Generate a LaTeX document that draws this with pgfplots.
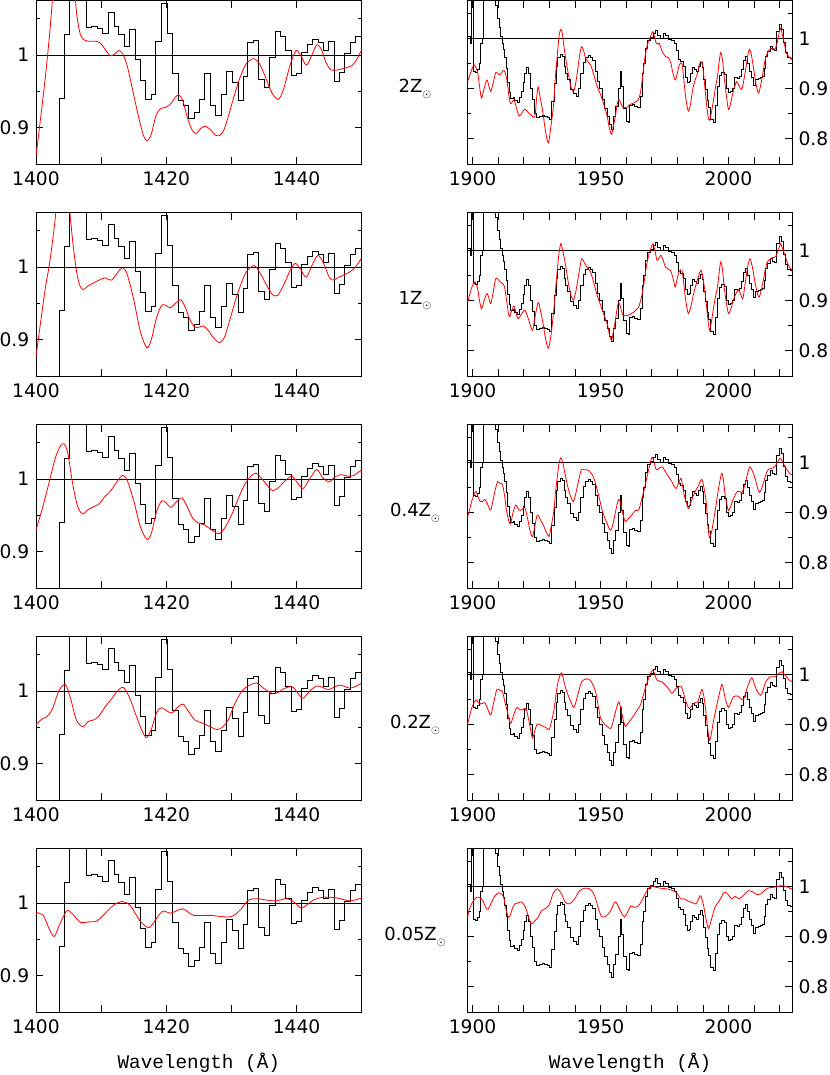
\documentclass[border=0pt]{standalone}
\usepackage{fontspec}
\setmainfont{DejaVu Sans}
\newfontfamily\labfont{Liberation Mono}
\usepackage{pgfplots}
\usepackage{pgfplotstable}
\pgfplotsset{compat=1.18}

\pgfplotstableread{
x y
1402.5 0.5
1403.6 0.940
1404.4 1.028
1405.2 1.2
1407.7 1.038
1408.5 1.040
1409.4 1.036
1410.2 1.030
1411.1 1.058
1412.0 1.040
1412.7 1.028
1413.6 1.012
1414.4 1.035
1415.2 0.994
1416.0 0.965
1416.8 0.939
1417.7 0.946
1418.4 1.019
1419.3 1.071
1420.1 1.030
1421.0 0.974
1421.8 0.937
1422.6 0.930
1423.4 0.913
1424.3 0.921
1425.1 0.939
1425.9 0.974
1426.8 0.931
1427.6 0.917
1428.4 0.946
1429.3 0.978
1430.1 0.962
1431.0 0.937
1431.8 0.971
1432.5 1.017
1433.4 1.020
1434.2 0.966
1435.1 0.956
1435.8 0.997
1436.7 1.032
1437.5 1.026
1438.3 1.006
1439.2 0.972
1440.0 0.975
1440.8 1.003
1441.6 1.014
1442.4 1.022
1443.3 1.017
1444.1 1.007
1444.9 1.019
1445.8 0.964
1446.6 0.976
1447.4 1.002
1448.3 1.017
1449.1 1.026
1450.0 1.026
}\leftobs

\pgfplotstableread{
x y
1897.5 1.003
1899.0 0.990
1899.6 1.2
1900.3 0.935
1901.2 0.932
1901.9 0.938
1902.5 0.950
1903.1 0.990
1903.8 1.0
1904.4 1.2
1909.0 1.065
1909.7 1.040
1910.3 1.022
1911.0 1.003
1911.6 0.990
1912.1 0.977
1912.6 0.962
1913.1 0.940
1913.6 0.912
1914.2 0.892
1914.8 0.880
1915.8 0.882
1916.5 0.876
1917.5 0.872
1918.4 0.882
1919.1 0.895
1919.7 0.912
1920.4 0.930
1921.1 0.942
1921.9 0.930
1922.7 0.900
1923.4 0.878
1924.3 0.850
1925.1 0.842
1926.2 0.845
1927.2 0.846
1928.2 0.845
1929.2 0.843
1929.9 0.838
1930.8 0.875
1931.8 0.910
1932.6 0.945
1933.3 0.962
1934.2 0.967
1935.0 0.964
1935.7 0.945
1936.4 0.930
1937.2 0.918
1938.3 0.898
1939.3 0.890
1940.4 0.884
1941.3 0.900
1942.2 0.930
1943.2 0.952
1944.2 0.962
1945.2 0.965
1946.2 0.962
1946.9 0.955
1947.9 0.935
1948.8 0.915
1949.6 0.900
1950.6 0.878
1951.6 0.860
1952.5 0.845
1953.3 0.828
1954.2 0.818
1955.0 0.845
1955.9 0.865
1956.8 0.900
1957.6 0.934
1958.3 0.905
1959.1 0.860
1960.0 0.835
1960.9 0.832
1961.4 0.866
1962.4 0.868
1963.4 0.864
1964.4 0.862
1965.5 0.885
1966.3 0.930
1966.9 0.950
1967.5 0.980
1968.3 0.995
1969.4 1.002
1970.5 1.010
1971.4 1.015
1972.3 1.006
1973.4 1.000
1974.5 1.010
1975.5 1.006
1976.6 0.998
1977.7 0.995
1978.8 0.990
1979.6 0.975
1980.3 0.957
1981.3 0.953
1982.2 0.945
1983.0 0.922
1983.8 0.913
1984.7 0.914
1985.3 0.930
1986.0 0.943
1986.8 0.938
1987.5 0.934
1988.3 0.945
1989.0 0.952
1989.7 0.942
1990.3 0.918
1990.9 0.898
1991.6 0.876
1992.3 0.862
1993.1 0.838
1994.2 0.833
1995.0 0.866
1995.7 0.905
1996.5 0.927
1997.3 0.933
1998.3 0.928
1999.1 0.900
2000.0 0.892
2000.9 0.895
2001.7 0.900
2002.5 0.922
2003.5 0.921
2004.3 0.924
2005.1 0.938
2005.8 0.955
2006.5 0.964
2007.2 0.950
2008.1 0.934
2009.0 0.923
2009.7 0.907
2010.6 0.918
2011.6 0.921
2012.4 0.922
2013.2 0.925
2013.9 0.940
2014.6 0.963
2015.3 0.973
2016.2 0.984
2017.1 0.978
2018.0 0.975
2018.8 1.013
2019.7 1.027
2020.6 1.018
2021.4 0.992
2022.3 0.972
2023.2 0.962
2024.3 0.960
2025.5 0.960
}\rightobs

\pgfplotstableread{
x y
1400 0.861
1400.8 0.92
1401.5 0.975
1402.2 1.04
1402.8 1.11
1403.3 1.17
1405.3 1.17
1405.8 1.11
1406.2 1.06
1406.7 1.032
1407.2 1.022
1408.0 1.019
1409.0 1.019
1409.8 1.017
1410.6 1.008
1411.4 0.999
1412.0 1.001
1412.7 1.006
1413.3 1.002
1414.0 0.985
1415.0 0.945
1416.0 0.905
1416.6 0.887
1417.1 0.882
1417.7 0.891
1418.4 0.916
1419.1 0.926
1419.9 0.928
1420.7 0.933
1421.4 0.942
1421.9 0.945
1422.5 0.938
1423.3 0.912
1424.0 0.896
1424.6 0.892
1425.3 0.899
1426.0 0.902
1426.8 0.897
1427.5 0.890
1428.1 0.889
1428.8 0.896
1429.5 0.915
1430.3 0.940
1431.2 0.966
1432.2 0.987
1433.4 0.995
1434.3 0.988
1435.2 0.970
1436.2 0.948
1437.2 0.939
1438.0 0.953
1439.0 0.986
1439.9 1.006
1440.6 1.000
1441.5 0.986
1442.3 0.999
1443.1 1.014
1443.8 1.008
1444.5 0.990
1445.2 0.980
1446.0 0.979
1447.0 0.981
1447.8 0.983
1448.6 0.986
1449.3 0.995
1450.0 1.007
}\redLa

\pgfplotstableread{
x y
1400 0.877
1400.8 0.93
1401.5 0.975
1402.0 1.000
1402.6 1.04
1403.1 1.08
1403.6 1.13
1404.6 1.13
1405.2 1.075
1405.7 1.03
1406.3 0.99
1406.8 0.973
1407.3 0.969
1408.0 0.974
1408.8 0.978
1409.7 0.982
1410.6 0.985
1411.6 0.982
1412.5 0.992
1413.3 0.999
1414.0 0.99
1415.0 0.955
1416.0 0.912
1417.0 0.889
1417.7 0.900
1418.5 0.930
1419.4 0.948
1420.6 0.944
1421.4 0.950
1422.2 0.955
1422.9 0.945
1423.6 0.928
1424.3 0.918
1425.0 0.917
1425.7 0.919
1426.5 0.912
1427.3 0.902
1428.2 0.896
1429.0 0.905
1430.0 0.935
1431.0 0.965
1432.2 0.992
1433.5 1.002
1434.5 0.99
1435.4 0.975
1436.3 0.962
1437.1 0.961
1438.0 0.975
1439.0 0.995
1439.8 1.005
1440.6 0.997
1441.5 0.986
1442.4 1.003
1443.3 1.016
1444.2 1.004
1445.0 0.986
1445.6 0.982
1446.5 0.986
1447.5 0.990
1448.6 0.996
1449.3 1.003
1450.0 1.013
}\redLb

\pgfplotstableread{
x y
1400 0.930
1401 0.960
1402 0.995
1403 1.030
1403.8 1.046
1404.35 1.048
1404.9 1.035
1405.6 0.995
1406.4 0.962
1407.2 0.952
1408 0.958
1408.9 0.962
1409.7 0.966
1410.6 0.976
1411.5 0.984
1412.4 0.996
1413.3 1.005
1414.0 0.998
1415.0 0.97
1416.0 0.935
1417.0 0.917
1417.7 0.925
1418.5 0.955
1419.3 0.970
1420.0 0.967
1420.7 0.961
1421.6 0.969
1422.4 0.974
1423.2 0.962
1424.0 0.947
1424.8 0.940
1425.8 0.937
1426.8 0.931
1427.6 0.926
1428.2 0.925
1429.0 0.933
1430.0 0.950
1431.0 0.972
1432.0 0.992
1433.0 1.004
1433.8 1.008
1434.7 1.000
1435.6 0.99
1436.3 0.984
1437.2 0.988
1438.3 0.998
1439.3 1.004
1440.2 0.994
1441.0 0.987
1442.0 1.000
1443.1 1.013
1444.0 1.002
1445.0 0.996
1445.9 1.003
1446.8 1.006
1447.8 1.004
1448.8 1.005
1450 1.013
}\redLc

\pgfplotstableread{
x y
1400 0.954
1401 0.962
1401.6 0.964
1402.5 0.975
1403.5 1.0
1404.5 1.009
1405.3 0.99
1406.2 0.960
1407.2 0.951
1408.0 0.958
1408.8 0.960
1409.6 0.965
1410.6 0.978
1411.5 0.988
1412.5 1.000
1413.4 1.005
1414.3 0.992
1415.3 0.968
1416.3 0.945
1417.0 0.936
1417.8 0.950
1418.5 0.970
1419.2 0.977
1420.2 0.972
1420.9 0.970
1421.8 0.978
1422.6 0.982
1423.4 0.972
1424.4 0.960
1425.5 0.956
1426.5 0.952
1427.7 0.947
1428.6 0.950
1429.5 0.960
1430.4 0.980
1431.6 1.000
1432.8 1.008
1433.9 1.011
1434.9 1.004
1436.2 0.997
1437.2 0.998
1438.0 1.003
1439.3 1.006
1440.2 0.997
1441.0 0.990
1442.0 1.000
1443.1 1.007
1444.0 1.005
1444.9 1.002
1446.6 1.008
1448.1 1.004
1449.0 1.006
1450.0 1.011
}\redLd

\pgfplotstableread{
x y
1400 0.987
1401.1 0.983
1402.0 0.965
1402.8 0.954
1403.6 0.970
1404.4 0.985
1404.9 0.990
1405.9 0.982
1406.9 0.973
1408.0 0.974
1409.3 0.975
1410.3 0.983
1411.9 0.997
1413.3 1.002
1414.5 0.996
1416.0 0.975
1417.3 0.966
1418.2 0.975
1419.0 0.985
1419.6 0.989
1420.6 0.986
1421.5 0.989
1422.5 0.992
1423.3 0.988
1424.2 0.983
1426.7 0.983
1429.8 0.981
1431.3 0.99
1432.6 1.004
1433.9 1.006
1435.4 1.004
1436.9 1.003
1438.5 1.006
1439.8 1.000
1440.8 0.993
1442.6 1.004
1444.1 1.008
1446.2 1.007
1448.2 1.003
1450.0 1.007
}\redLe

\pgfplotstableread{
x y
1898 0.915
1898.3 0.917
1899.5 0.935
1900.6 0.947
1901.9 0.934
1902.7 0.905
1903.5 0.881
1904.5 0.900
1905.6 0.917
1906.4 0.905
1907.1 0.894
1908.1 0.912
1909.1 0.932
1910.5 0.927
1912.3 0.936
1913.4 0.917
1914.2 0.885
1914.9 0.870
1916.2 0.877
1917.2 0.860
1918.2 0.845
1919.3 0.852
1920.4 0.859
1921.6 0.853
1922.7 0.848
1924.3 0.844
1925.0 0.880
1925.6 0.903
1926.3 0.885
1927.3 0.858
1928.5 0.815
1929.6 0.792
1930.6 0.825
1931.6 0.865
1932.3 0.920
1933.1 0.965
1933.8 1.005
1934.5 1.018
1935.1 1.008
1935.7 0.983
1936.7 0.950
1937.7 0.921
1938.6 0.900
1939.4 0.894
1940.1 0.905
1940.9 0.931
1941.8 0.965
1942.6 0.983
1943.4 0.975
1944.2 0.960
1945.2 0.953
1946.1 0.947
1947.1 0.932
1948.1 0.914
1949.0 0.900
1950.0 0.888
1951.3 0.868
1952.6 0.845
1953.5 0.820
1954.3 0.809
1955.0 0.825
1955.8 0.845
1956.5 0.868
1957.1 0.879
1957.8 0.872
1958.4 0.865
1959.4 0.862
1960.4 0.863
1961.4 0.868
1962.3 0.870
1963.3 0.872
1964.3 0.875
1965.1 0.882
1965.8 0.898
1966.7 0.935
1967.5 0.967
1968.3 0.987
1969.2 1.000
1970.5 1.013
1971.2 1.000
1971.8 0.990
1972.5 0.988
1973.0 0.990
1974.0 0.975
1975.3 0.964
1976.6 0.961
1977.5 0.950
1978.3 0.930
1979.2 0.917
1980.0 0.930
1980.8 0.947
1981.8 0.950
1982.5 0.920
1983.1 0.890
1983.8 0.865
1984.4 0.855
1985.2 0.870
1986.0 0.898
1987.0 0.918
1987.7 0.927
1988.5 0.945
1989.2 0.954
1989.9 0.945
1990.5 0.917
1991.3 0.875
1992.0 0.845
1992.6 0.837
1993.4 0.855
1994.2 0.878
1995.0 0.905
1995.7 0.924
1996.4 0.955
1997.0 0.972
1997.7 0.955
1998.3 0.924
1999.2 0.885
2000.0 0.858
2000.8 0.870
2001.7 0.891
2002.5 0.905
2003.2 0.914
2004.2 0.905
2005.2 0.898
2006.1 0.920
2006.9 0.944
2007.5 0.965
2008.2 0.978
2008.9 0.968
2009.7 0.944
2010.7 0.910
2011.7 0.891
2012.5 0.905
2013.4 0.929
2014.1 0.952
2014.9 0.967
2015.9 0.977
2016.9 0.980
2017.6 0.980
2018.2 0.978
2019.2 0.995
2020.2 1.020
2020.8 1.012
2021.4 1.000
2022.0 0.985
2022.7 0.970
2023.8 0.962
2025.0 0.957
}\redRa

\pgfplotstableread{
x y
1898 0.898
1898.3 0.901
1899.6 0.925
1900.9 0.937
1901.9 0.925
1902.7 0.900
1903.5 0.884
1904.5 0.900
1905.6 0.914
1906.4 0.904
1907.1 0.894
1908.1 0.918
1909.1 0.944
1910.8 0.937
1912.3 0.930
1913.3 0.900
1914.3 0.868
1915.3 0.880
1916.2 0.889
1917.0 0.875
1917.8 0.864
1919.0 0.872
1920.4 0.881
1921.9 0.862
1923.4 0.841
1924.5 0.870
1925.6 0.896
1926.4 0.883
1927.3 0.861
1928.5 0.825
1929.6 0.805
1930.6 0.830
1931.6 0.874
1932.4 0.920
1933.1 0.960
1933.8 0.995
1934.5 1.013
1935.2 1.000
1936.0 0.980
1936.8 0.955
1937.7 0.927
1938.6 0.908
1939.4 0.901
1940.1 0.912
1940.9 0.934
1941.8 0.962
1942.6 0.983
1943.4 0.978
1944.2 0.970
1945.2 0.963
1946.1 0.957
1947.1 0.940
1948.1 0.921
1949.0 0.905
1950.0 0.891
1951.3 0.872
1952.6 0.854
1953.5 0.832
1954.3 0.821
1955.0 0.838
1955.8 0.861
1956.5 0.885
1957.1 0.897
1957.9 0.885
1958.8 0.871
1960.0 0.870
1961.0 0.871
1962.0 0.874
1963.0 0.877
1964.0 0.882
1964.9 0.887
1966.2 0.911
1967.1 0.940
1967.9 0.967
1968.7 0.988
1969.5 1.001
1970.5 1.013
1971.3 0.998
1972.1 0.980
1972.9 0.985
1973.6 0.990
1974.5 0.980
1975.3 0.967
1976.3 0.963
1977.3 0.960
1978.3 0.945
1979.2 0.927
1980.0 0.945
1980.8 0.958
1981.8 0.960
1982.5 0.935
1983.1 0.907
1983.8 0.885
1984.4 0.874
1985.4 0.890
1986.4 0.914
1987.8 0.940
1989.2 0.960
1990.0 0.945
1990.9 0.914
1991.8 0.870
1992.6 0.841
1993.4 0.860
1994.2 0.887
1995.0 0.910
1995.7 0.927
1996.4 0.958
1997.0 0.977
1997.7 0.960
1998.3 0.927
1999.2 0.895
2000.0 0.874
2001.0 0.885
2001.9 0.901
2003.0 0.915
2003.9 0.921
2004.8 0.912
2005.6 0.904
2006.4 0.930
2007.1 0.954
2007.8 0.975
2008.4 0.983
2009.2 0.970
2010.0 0.947
2011.0 0.920
2011.9 0.907
2012.8 0.920
2013.6 0.940
2014.4 0.962
2015.2 0.977
2016.9 0.985
2018.4 0.987
2019.4 1.000
2020.4 1.013
2021.0 1.005
2021.7 0.995
2022.4 0.985
2023.0 0.974
2024.0 0.965
2025.0 0.960
}\redRb

\pgfplotstableread{
x y
1898 0.893
1898.3 0.895
1899.8 0.925
1901.3 0.942
1902.2 0.930
1903.0 0.922
1903.9 0.922
1904.8 0.926
1906.0 0.915
1907.1 0.905
1908.4 0.935
1909.7 0.961
1910.7 0.958
1911.7 0.955
1912.6 0.930
1913.4 0.900
1914.7 0.877
1915.8 0.900
1916.9 0.915
1917.8 0.908
1918.6 0.904
1919.5 0.907
1920.4 0.910
1921.5 0.888
1922.4 0.865
1923.4 0.852
1924.4 0.875
1925.3 0.895
1926.6 0.885
1927.9 0.872
1928.9 0.860
1929.9 0.853
1930.8 0.875
1931.8 0.905
1932.4 0.940
1933.1 0.971
1933.8 0.998
1934.5 1.009
1935.2 1.000
1936.0 0.980
1936.8 0.960
1937.7 0.942
1938.6 0.928
1939.4 0.922
1940.1 0.933
1940.9 0.951
1941.8 0.972
1942.6 0.986
1943.7 0.985
1944.8 0.985
1945.8 0.981
1946.8 0.975
1947.8 0.962
1948.7 0.945
1949.7 0.925
1950.6 0.905
1951.6 0.890
1952.6 0.878
1953.2 0.870
1953.9 0.865
1954.6 0.872
1955.2 0.885
1956.2 0.910
1957.1 0.926
1957.8 0.920
1958.4 0.905
1959.1 0.890
1959.7 0.882
1960.7 0.887
1961.7 0.892
1962.6 0.898
1963.6 0.904
1964.9 0.905
1966.0 0.925
1966.9 0.942
1967.9 0.965
1968.8 0.985
1970.1 1.010
1971.0 0.998
1971.8 0.985
1972.9 0.988
1974.0 0.991
1974.8 0.986
1975.7 0.978
1976.8 0.970
1977.9 0.961
1978.8 0.952
1979.6 0.948
1980.5 0.958
1981.4 0.968
1982.0 0.955
1982.7 0.935
1983.6 0.918
1984.4 0.908
1985.4 0.922
1986.4 0.935
1987.2 0.944
1988.0 0.951
1988.8 0.960
1989.6 0.966
1990.4 0.950
1991.3 0.920
1992.0 0.870
1992.6 0.850
1993.4 0.862
1994.2 0.885
1995.0 0.910
1995.7 0.935
1996.6 0.962
1997.4 0.978
1998.0 0.965
1998.7 0.935
1999.4 0.915
2000.0 0.904
2000.9 0.913
2001.7 0.925
2002.6 0.935
2003.5 0.942
2004.4 0.942
2005.2 0.940
2006.1 0.950
2006.9 0.965
2007.7 0.982
2008.4 0.991
2009.4 0.982
2010.4 0.968
2011.3 0.950
2012.1 0.940
2012.9 0.947
2013.6 0.958
2014.6 0.975
2015.6 0.986
2017.6 0.989
2018.9 0.998
2020.2 1.008
2021.2 1.000
2022.1 0.991
2023.0 0.984
2023.8 0.978
2025.0 0.975
}\redRc

\pgfplotstableread{
x y
1898 0.903
1898.3 0.906
1899.8 0.935
1901.3 0.949
1902.2 0.944
1903.0 0.941
1903.9 0.942
1904.8 0.943
1906.0 0.930
1907.1 0.919
1908.3 0.945
1909.5 0.970
1910.6 0.968
1911.7 0.965
1912.6 0.945
1913.4 0.930
1914.2 0.912
1914.9 0.902
1916.0 0.918
1917.2 0.934
1918.0 0.931
1918.8 0.929
1919.9 0.930
1920.9 0.932
1922.1 0.905
1923.4 0.873
1924.3 0.888
1925.3 0.901
1926.6 0.899
1927.9 0.896
1928.9 0.893
1929.9 0.890
1930.8 0.905
1931.8 0.929
1932.6 0.960
1933.4 0.985
1934.7 1.003
1935.5 0.990
1936.4 0.972
1937.2 0.960
1938.1 0.949
1939.4 0.934
1940.1 0.940
1940.9 0.955
1941.8 0.972
1942.6 0.985
1943.5 0.989
1944.5 0.991
1945.4 0.990
1946.4 0.985
1947.2 0.977
1948.1 0.965
1949.0 0.940
1950.0 0.912
1950.9 0.905
1951.9 0.899
1952.9 0.895
1953.9 0.892
1954.6 0.900
1955.2 0.912
1956.2 0.932
1957.1 0.945
1957.8 0.935
1958.4 0.920
1959.1 0.905
1959.7 0.896
1960.7 0.902
1961.7 0.909
1962.6 0.915
1963.6 0.923
1964.6 0.931
1965.6 0.939
1966.5 0.955
1967.5 0.972
1968.5 0.988
1969.5 1.001
1970.5 1.008
1971.3 0.998
1972.1 0.988
1973.0 0.986
1974.0 0.985
1975.0 0.980
1976.0 0.975
1977.0 0.968
1977.9 0.962
1978.7 0.967
1979.5 0.972
1980.5 0.975
1981.4 0.976
1982.3 0.965
1983.1 0.950
1984.0 0.937
1984.8 0.932
1985.6 0.937
1986.4 0.942
1987.2 0.944
1988.0 0.945
1988.8 0.958
1989.6 0.970
1990.3 0.958
1990.9 0.937
1991.8 0.895
1992.6 0.869
1993.4 0.885
1994.2 0.909
1995.0 0.928
1995.7 0.945
1996.6 0.965
1997.4 0.980
1998.0 0.970
1998.7 0.952
1999.4 0.940
2000.0 0.934
2001.0 0.945
2001.9 0.955
2002.9 0.957
2003.9 0.956
2004.8 0.952
2005.8 0.949
2006.8 0.965
2007.8 0.980
2009.1 0.993
2010.0 0.982
2011.0 0.968
2012.6 0.958
2013.5 0.968
2014.3 0.982
2015.3 0.990
2016.2 0.995
2018.2 0.995
2019.6 1.001
2020.8 1.005
2021.8 1.000
2022.7 0.995
2023.8 0.988
2025.0 0.985
}\redRd

\pgfplotstableread{
x y
1898 0.938
1899.0 0.958
1900.3 0.971
1901.6 0.978
1902.5 0.978
1903.5 0.975
1904.3 0.968
1905.1 0.958
1906.1 0.955
1907.4 0.968
1908.7 0.981
1910.3 0.987
1911.6 0.983
1912.3 0.975
1912.9 0.958
1913.5 0.945
1914.2 0.938
1914.9 0.945
1915.5 0.955
1916.5 0.965
1917.8 0.967
1919.1 0.969
1920.4 0.961
1921.2 0.950
1921.7 0.941
1922.3 0.932
1923.0 0.925
1924.3 0.931
1925.6 0.938
1926.9 0.951
1928.2 0.955
1929.7 0.961
1930.6 0.972
1931.4 0.985
1933.1 0.995
1934.7 0.985
1936.2 0.968
1937.9 0.965
1939.9 0.975
1941.8 0.991
1943.8 0.996
1945.7 0.995
1946.7 0.990
1947.7 0.981
1948.5 0.968
1949.2 0.955
1950.5 0.939
1952.2 0.941
1953.9 0.951
1955.7 0.969
1957.4 0.955
1958.4 0.945
1959.4 0.939
1960.6 0.949
1961.9 0.961
1963.2 0.958
1964.8 0.961
1966.5 0.975
1967.8 0.988
1969.7 1.001
1971.7 0.998
1973.6 0.996
1975.6 0.995
1977.5 0.993
1979.5 0.988
1981.4 0.975
1982.7 0.975
1984.0 0.971
1986.0 0.967
1987.3 0.965
1988.6 0.978
1989.2 0.981
1990.3 0.961
1991.2 0.935
1992.2 0.916
1993.4 0.935
1994.7 0.958
1996.4 0.971
1998.3 0.988
1999.6 0.985
2001.2 0.975
2002.5 0.980
2004.2 0.975
2006.1 0.983
2007.7 0.991
2009.4 0.989
2011.3 0.983
2012.6 0.985
2015.2 0.996
2017.8 0.998
2020.4 1.001
2022.3 1.000
2024.5 0.995
2025.0 0.994
}\redRe

\pgfplotsset{
  panel/.style={
    scale only axis, anchor=south west, height=122.6pt,
    axis line style={black, line width=0.6pt},
    tick style={black, line width=0.6pt},
    major tick length=5.25pt, minor tick length=3pt,
    tick align=inside, xtick pos=both, ytick pos=both,
    tick label style={font=\fontsize{14}{16}\selectfont},
    xticklabel style={yshift=-2.5pt},
    clip=true,
  },
  leftpanel/.style={panel, width=244.3pt,
    xmin=1400, xmax=1450, ymin=0.85, ymax=1.075,
    xtick={1400,1410,1420,1430,1440,1450},
    xticklabels={1400,,1420,,1440,},
    ytick={0.9,1}, yticklabels={0.9,1},
    minor ytick={0.85,0.95,1.05},
    yticklabel style={xshift=-1.5pt},
  },
  rightpanel/.style={panel, width=243.75pt,
    xmin=1898, xmax=2025, ymin=0.75, ymax=1.075,
    xtick={1900,1910,1920,1930,1940,1950,1960,1970,1980,1990,2000,2010,2020},
    xticklabels={1900,,,,,1950,,,,,2000,,},
    ytick={0.8,0.9,1}, yticklabels={0.8,0.9,1},
    minor ytick={0.75,0.85,0.95,1.05},
    yticklabel pos=right,
    yticklabel style={xshift=1pt},
  },
  obs/.style={black, line width=0.6pt, const plot},
  mod/.style={red, line width=0.6pt, smooth},
  unity/.style={black, line width=0.5pt},
}

\newcommand{\zsun}{Z\raisebox{-0.45ex}{\fontsize{8.5}{9}\selectfont$\odot$}}

\begin{document}
\begin{tikzpicture}
\useasboundingbox (0,0) rectangle (622.5pt,806.25pt);

% ---- left column ----
\begin{axis}[leftpanel, at={(27pt,683.25pt)}]
\addplot[unity] coordinates {(1400,1) (1450,1)};
\addplot[obs] table {\leftobs};
\addplot[mod] table {\redLa};
\end{axis}
\begin{axis}[leftpanel, at={(27pt,524.25pt)}]
\addplot[unity] coordinates {(1400,1) (1450,1)};
\addplot[obs] table {\leftobs};
\addplot[mod] table {\redLb};
\end{axis}
\begin{axis}[leftpanel, at={(27pt,365.25pt)}]
\addplot[unity] coordinates {(1400,1) (1450,1)};
\addplot[obs] table {\leftobs};
\addplot[mod] table {\redLc};
\end{axis}
\begin{axis}[leftpanel, at={(27pt,206.25pt)}]
\addplot[unity] coordinates {(1400,1) (1450,1)};
\addplot[obs] table {\leftobs};
\addplot[mod] table {\redLd};
\end{axis}
\begin{axis}[leftpanel, at={(27pt,47.25pt)}]
\addplot[unity] coordinates {(1400,1) (1450,1)};
\addplot[obs] table {\leftobs};
\addplot[mod] table {\redLe};
\end{axis}

% ---- right column ----
\begin{axis}[rightpanel, at={(350.6pt,683.25pt)}]
\addplot[unity] coordinates {(1898,1) (2025,1)};
\addplot[obs] table {\rightobs};
\addplot[mod] table {\redRa};
\end{axis}
\begin{axis}[rightpanel, at={(350.6pt,524.25pt)}]
\addplot[unity] coordinates {(1898,1) (2025,1)};
\addplot[obs] table {\rightobs};
\addplot[mod] table {\redRb};
\end{axis}
\begin{axis}[rightpanel, at={(350.6pt,365.25pt)}]
\addplot[unity] coordinates {(1898,1) (2025,1)};
\addplot[obs] table {\rightobs};
\addplot[mod] table {\redRc};
\end{axis}
\begin{axis}[rightpanel, at={(350.6pt,206.25pt)}]
\addplot[unity] coordinates {(1898,1) (2025,1)};
\addplot[obs] table {\rightobs};
\addplot[mod] table {\redRd};
\end{axis}
\begin{axis}[rightpanel, at={(350.6pt,47.25pt)}]
\addplot[unity] coordinates {(1898,1) (2025,1)};
\addplot[obs] table {\rightobs};
\addplot[mod] table {\redRe};
\end{axis}

% ---- row labels ----
\begin{scope}[every node/.style={font=\fontsize{13.5}{15}\selectfont, inner sep=0pt}]
\node at (311.25pt,739.7pt) {2\zsun};
\node at (311.25pt,580.7pt) {1\zsun};
\node at (311.25pt,421.7pt) {0.4\zsun};
\node at (311.25pt,262.7pt) {0.2\zsun};
\node at (311.25pt,103.7pt) {0.05\zsun};
\end{scope}

% ---- x labels ----
\node[font=\labfont\fontsize{14.5}{16}\selectfont, inner sep=0pt] at (149.1pt,9.5pt) {Wavelength (Å)};
\node[font=\labfont\fontsize{14.5}{16}\selectfont, inner sep=0pt] at (472.5pt,9.5pt) {Wavelength (Å)};
\end{tikzpicture}
\end{document}
